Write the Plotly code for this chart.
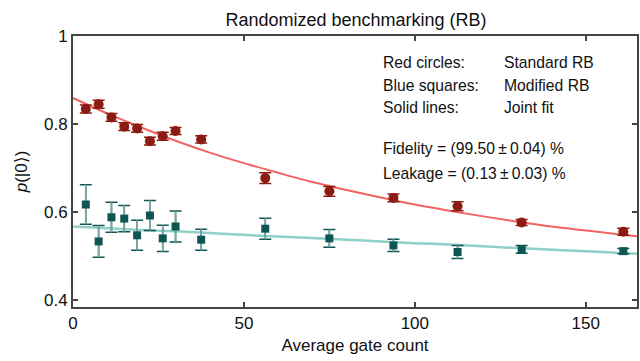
import plotly.graph_objects as go

# Standard RB (red circles)
red_x = [3.75, 7.5, 11.25, 15, 18.75, 22.5, 26.25, 30, 37.5, 56.25, 75, 93.75, 112.5, 131.25, 161]
red_y = [0.834, 0.845, 0.815, 0.794, 0.790, 0.761, 0.772, 0.784, 0.765, 0.677, 0.647, 0.632, 0.613, 0.576, 0.555]
red_err = [0.009, 0.009, 0.009, 0.009, 0.009, 0.009, 0.009, 0.008, 0.008, 0.012, 0.011, 0.009, 0.010, 0.007, 0.008]

# Modified RB (blue squares)
blue_x = red_x
blue_y = [0.617, 0.533, 0.588, 0.585, 0.547, 0.592, 0.540, 0.567, 0.537, 0.562, 0.540, 0.524, 0.509, 0.515, 0.511]
blue_err = [0.045, 0.036, 0.034, 0.030, 0.034, 0.034, 0.030, 0.035, 0.024, 0.024, 0.020, 0.014, 0.015, 0.009, 0.006]

# Joint fit curves
fit_x = [0, 10, 20, 30, 40, 50, 60, 70, 80, 90, 100, 110, 120, 130, 140, 150, 160, 165]
fit_red = [0.859, 0.824, 0.792, 0.762, 0.735, 0.711, 0.689, 0.668, 0.650, 0.633, 0.617, 0.603,
           0.590, 0.578, 0.567, 0.558, 0.549, 0.545]
fit_blue = [0.567, 0.563, 0.559, 0.556, 0.552, 0.548, 0.544, 0.541, 0.537, 0.533, 0.529, 0.526,
            0.522, 0.518, 0.514, 0.511, 0.507, 0.505]

x_ticks = [0, 50, 100, 150]
y_ticks = [0.4, 0.6, 0.8, 1]
y_tick_text = ["0.4", "0.6", "0.8", "1"]

RED_LINE = "#f26461"
RED_MARK = "#8c1c13"
BLUE_LINE = "#8fd0c8"
BLUE_MARK = "#0f5552"
BLUE_STEM = "#7fa7a6"
AXIS = "#444444"
TXT = "#111111"
FONT = "Liberation Sans, Arial, sans-serif"

W, H = 640, 361
ML, MR, MT, MB = 73, 3, 36, 54

fig = go.Figure()
fig.add_trace(go.Scatter(x=fit_x, y=fit_red, mode="lines", line=dict(color=RED_LINE, width=2, shape="spline"),
                         hoverinfo="skip"))
fig.add_trace(go.Scatter(x=fit_x, y=fit_blue, mode="lines", line=dict(color=BLUE_LINE, width=2.5, shape="spline"),
                         hoverinfo="skip"))
# blue error bars: dark caps, lighter stems
fig.add_trace(go.Scatter(x=blue_x, y=blue_y, mode="markers", marker=dict(opacity=0),
                         error_y=dict(type="data", array=blue_err, color=BLUE_MARK, thickness=1.5, width=6)))
fig.add_trace(go.Scatter(x=blue_x, y=blue_y, mode="markers",
                         marker=dict(symbol="square", size=8, color=BLUE_MARK),
                         error_y=dict(type="data", array=blue_err, color=BLUE_STEM, thickness=1.8, width=0)))
fig.add_trace(go.Scatter(x=red_x, y=red_y, mode="markers",
                         marker=dict(symbol="circle", size=10, color=RED_MARK),
                         error_y=dict(type="data", array=red_err, color=RED_MARK, thickness=1.5, width=6)))

axis_common = dict(showline=True, linecolor=AXIS, linewidth=2, mirror="ticks", ticks="inside",
                   tickcolor=AXIS, tickwidth=2, ticklen=5, showgrid=False, zeroline=False, automargin=False,
                   tickfont=dict(family=FONT, size=17, color=TXT))
fig.update_layout(
    width=W, height=H,
    margin=dict(l=ML, r=MR, t=MT, b=MB, autoexpand=False),
    paper_bgcolor="white", plot_bgcolor="white",
    showlegend=False,
    font=dict(family=FONT, color=TXT),
    title=dict(text="Randomized benchmarking (RB)", x=356 / W, xanchor="center", y=1 - 20 / H, yanchor="middle",
               font=dict(family=FONT, size=18, color=TXT)),
    xaxis=dict(range=[0, 165], tickvals=x_ticks, title=dict(text="Average gate count", standoff=7,
               font=dict(family=FONT, size=17, color=TXT)), **axis_common),
    yaxis=dict(range=[0.384, 1.0], tickvals=y_ticks, ticktext=y_tick_text,
               title=dict(text="<i>p</i>(|0⟩)", standoff=12, font=dict(family=FONT, size=17, color=TXT)),
               **axis_common),
)

PW, PH = W - ML - MR, H - MT - MB


def px_to_paper(px, py):
    return (px - ML) / PW, (H - py - MB) / PH


ann_rows = [
    ("Red circles:", "Standard RB", 62),
    ("Blue squares:", "Modified RB", 85),
    ("Solid lines:", "Joint fit", 108),
]
AFONT = dict(family=FONT, size=15.7, color=TXT)
for left, right, py in ann_rows:
    ax, ay = px_to_paper(381, py)
    fig.add_annotation(x=ax, y=ay, xref="paper", yref="paper", text=left, showarrow=False,
                       xanchor="left", yanchor="middle", font=AFONT)
    ax, ay = px_to_paper(502, py)
    fig.add_annotation(x=ax, y=ay, xref="paper", yref="paper", text=right, showarrow=False,
                       xanchor="left", yanchor="middle", font=AFONT)
for txt, py in [("Fidelity = (99.50\u2009±\u20090.04) %", 148), ("Leakage = (0.13\u2009±\u20090.03) %", 173)]:
    ax, ay = px_to_paper(381, py)
    fig.add_annotation(x=ax, y=ay, xref="paper", yref="paper", text=txt, showarrow=False,
                       xanchor="left", yanchor="middle", font=AFONT)

fig.write_html("out.html", config={"displayModeBar": False, "staticPlot": True},
               post_script="document.body.style.margin='0';document.body.style.overflow='hidden';")
